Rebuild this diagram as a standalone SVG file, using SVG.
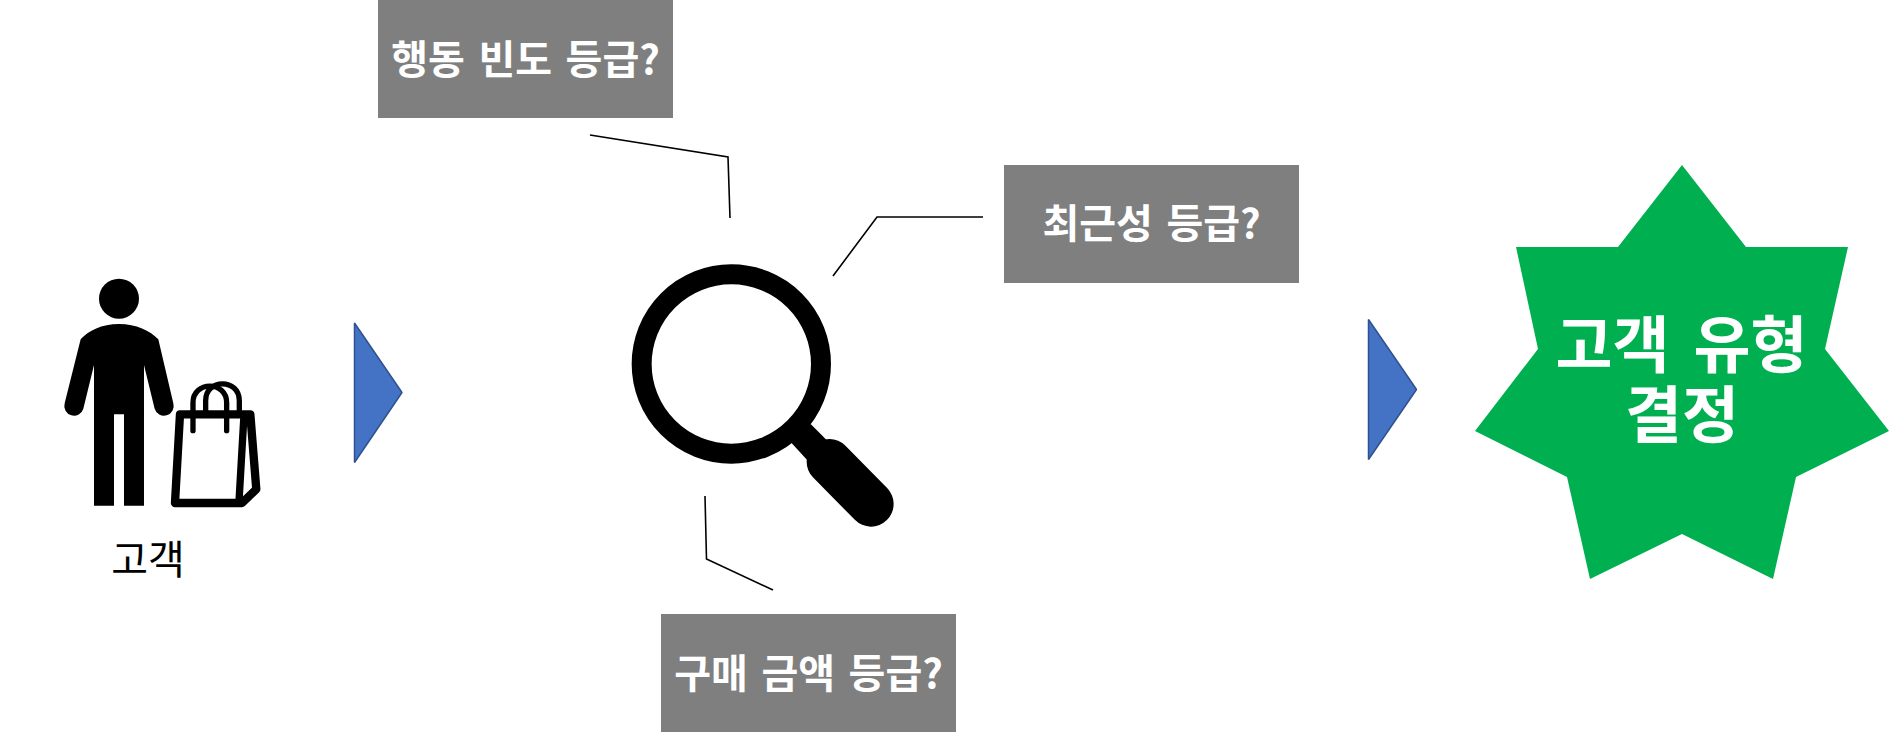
<svg xmlns="http://www.w3.org/2000/svg" width="1889" height="732" viewBox="0 0 1889 732">
<style>
text{font-family:"Noto Sans CJK KR","Noto Sans",sans-serif;text-anchor:middle}
.box{fill:#7f7f7f}
.lbl{fill:#fff;font-weight:700;font-size:40px;word-spacing:4.500px}
.big{fill:#fff;font-weight:700;font-size:62px;word-spacing:10px}
.tri{fill:#4472c4;stroke:#2f528f;stroke-width:1.5;stroke-linejoin:bevel}
.conn{fill:none;stroke:#000;stroke-width:1.6}
</style>
<rect width="1889" height="732" fill="#fff"/>
<g id="connectors">
<path class="conn" d="M590 135L728 157L730 218"/>
<path class="conn" d="M833 276L877 217L983 217"/>
<path class="conn" d="M705 496L706.500 559L773 590"/>
</g>
<g id="customer">
<g transform="translate(40 260) scale(.3333)">
<circle cx="237" cy="116" r="60"/>
<path d="M237 192C185 192 145 212 122 238L74 430A29 29 0 0 0 130 446L162 315V737H222V463H252V737H312V315L344 446A29 29 0 0 0 400 430L355 238C330 212 289 192 237 192Z"/>
<g fill="none" stroke="#000" stroke-linejoin="round" stroke-linecap="round">
<path stroke-width="25" d="M420 463H631L649 688L606 729H405Z"/>
<path stroke-width="22" d="M612 465L597 725"/>
<path stroke-width="16" d="M459 512V428C459 362 560 362 560 428V512"/>
<path stroke-width="16" d="M497 455V422C497 355 598 355 598 422V455"/>
</g>
</g>
<text x="148" y="574" font-size="40">고객</text>
</g>
<g id="arrow1"><path class="tri" d="M354.500 323L402 392.500L354.500 462.500Z"/></g>
<g id="magnifier" transform="translate(600 120) scale(.3333)">
<circle cx="394" cy="732" r="269" fill="none" stroke="#000" stroke-width="60"/>
<path d="M632 912L700 980L640 1040L574 968Z"/>
<path d="M688 1025L813 1152" fill="none" stroke="#000" stroke-width="136" stroke-linecap="round"/>
</g>
<g id="box-frequency"><rect class="box" x="378" y="0" width="295" height="118"/><text class="lbl" x="525.500" y="74">행동 빈도 등급?</text></g>
<g id="box-recency"><rect class="box" x="1004" y="165" width="295" height="118"/><text class="lbl" x="1151.500" y="238">최근성 등급?</text></g>
<g id="box-monetary"><rect class="box" x="661" y="614" width="295" height="118"/><text class="lbl" x="808.500" y="688">구매 금액 등급?</text></g>
<g id="arrow2"><path class="tri" d="M1368.500 319.500L1416.500 389.500L1368.500 459.500Z"/></g>
<g id="decision">
<path fill="#00b050" d="M1682 165L1746 247H1848L1825 349L1889 431L1796 477L1773 579L1682 534L1590 579L1567 477L1475 431L1538 349L1516 247H1618Z"/>
<text class="big" x="1681.500" y="368">고객 유형</text>
<text class="big" x="1682" y="438">결정</text>
</g>
</svg>
